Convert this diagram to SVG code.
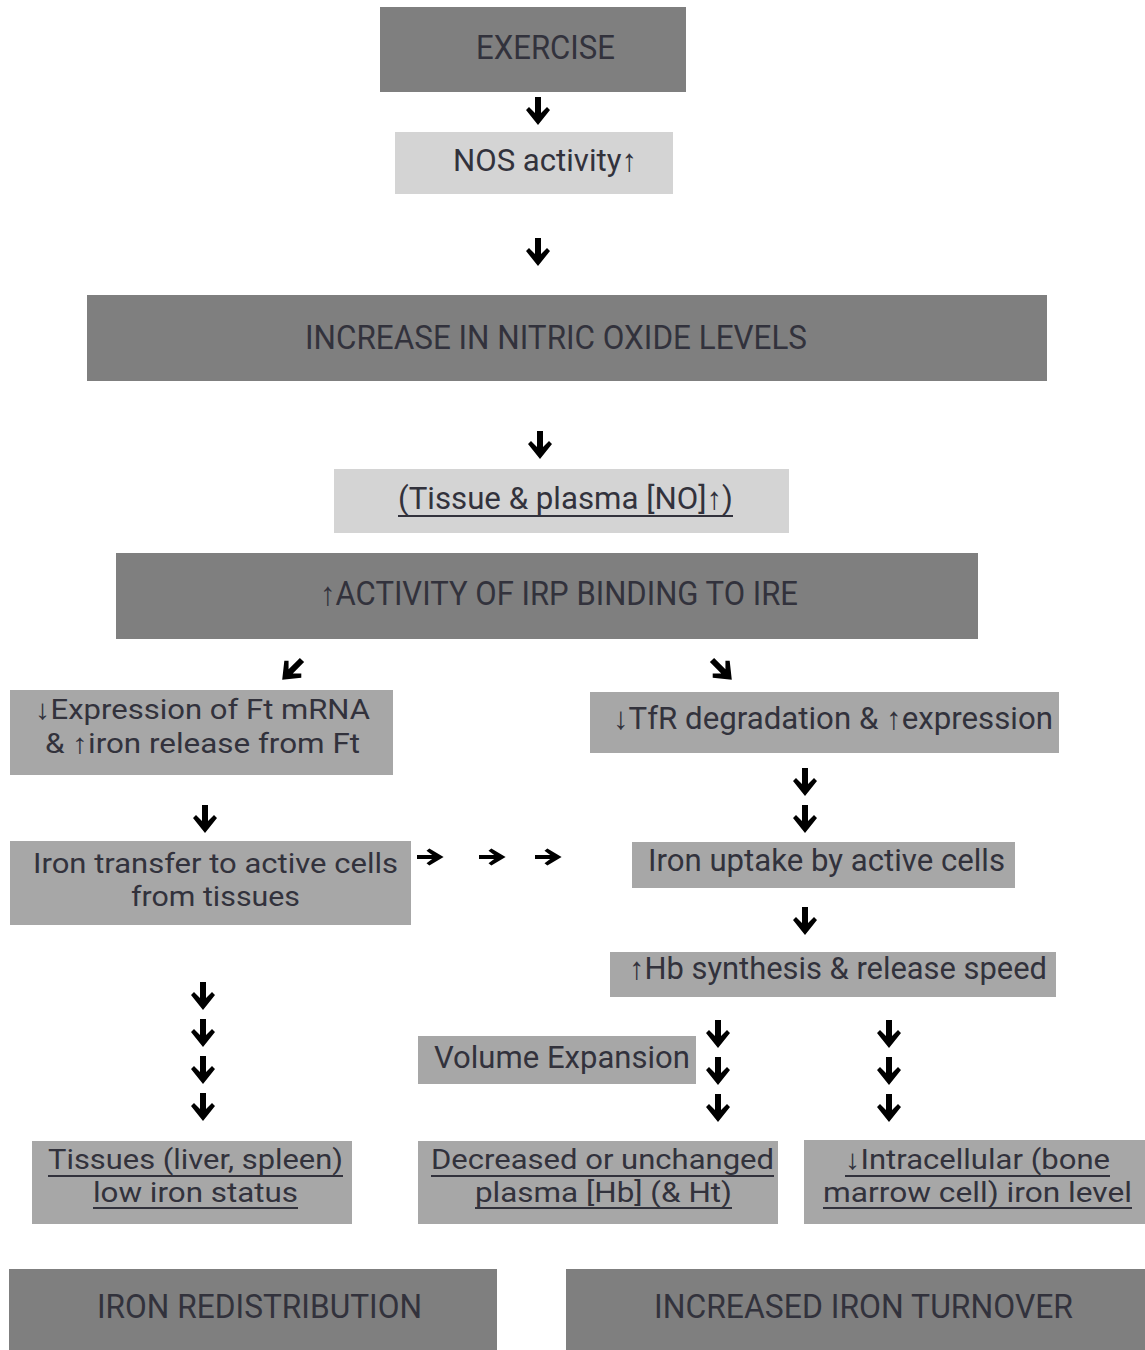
<svg xmlns="http://www.w3.org/2000/svg" xmlns:xlink="http://www.w3.org/1999/xlink" width="1145" height="1350" viewBox="0 0 1145 1350">
<style>
  .dark { fill: #7f7f7f; }
  .mid { fill: #a7a7a7; }
  .light { fill: #d4d4d4; }
  text { font-family: Roboto, "Liberation Sans", sans-serif; fill: #32323c; }
  .t { font-size: 31px; }
  .t2 { font-size: 28px; }
  .cap { font-size: 33px; }
  .ul { stroke: #32323c; stroke-width: 2; }
  .arr { fill: #000; }
</style>
<defs>
  <path id="ad" class="arr" d="M-3,0 H3 V16 L9,10 L12,13 L0,28 L-12,13 L-9,10 L-3,16 Z"/>
</defs>
<rect x="0" y="0" width="1145" height="1350" fill="#ffffff"/>

<g id="exercise"><rect class="dark" x="380" y="7" width="306" height="85"/><text class="cap" x="476" y="59" textLength="139" lengthAdjust="spacingAndGlyphs">EXERCISE</text></g>
<g id="nos"><rect class="light" x="395" y="132" width="278" height="62"/><text class="t" x="453" y="171" textLength="184" lengthAdjust="spacingAndGlyphs">NOS activity↑</text></g>
<g id="increase-no"><rect class="dark" x="87" y="295" width="960" height="86"/><text class="cap" x="305" y="349" textLength="502" lengthAdjust="spacingAndGlyphs">INCREASE IN NITRIC OXIDE LEVELS</text></g>
<g id="tissue-plasma"><rect class="light" x="334" y="469" width="455" height="64"/><text class="t" x="398" y="509" textLength="335" lengthAdjust="spacingAndGlyphs">(Tissue &amp; plasma [NO]↑)</text><line class="ul" x1="398" y1="516" x2="733" y2="516"/></g>
<g id="irp-activity"><rect class="dark" x="116" y="553" width="862" height="86"/><text class="cap" x="320" y="605" textLength="478" lengthAdjust="spacingAndGlyphs">↑ACTIVITY OF IRP BINDING TO IRE</text></g>
<g id="ft-expression"><rect class="mid" x="10" y="690" width="383" height="85"/><text class="t2" x="35" y="719" textLength="335" lengthAdjust="spacingAndGlyphs">↓Expression of Ft mRNA</text><text class="t2" x="45" y="753" textLength="315" lengthAdjust="spacingAndGlyphs">&amp; ↑iron release from Ft</text></g>
<g id="tfr"><rect class="mid" x="590" y="692" width="469" height="61"/><text class="t" x="613" y="729" textLength="440" lengthAdjust="spacingAndGlyphs">↓TfR degradation &amp; ↑expression</text></g>
<g id="iron-transfer"><rect class="mid" x="10" y="841" width="401" height="84"/><text class="t2" x="33" y="873" textLength="365" lengthAdjust="spacingAndGlyphs">Iron transfer to active cells</text><text class="t2" x="131" y="906" textLength="169" lengthAdjust="spacingAndGlyphs">from tissues</text></g>
<g id="iron-uptake"><rect class="mid" x="632" y="842" width="383" height="46"/><text class="t" x="648" y="871" textLength="357" lengthAdjust="spacingAndGlyphs">Iron uptake by active cells</text></g>
<g id="hb-synthesis"><rect class="mid" x="610" y="952" width="446" height="45"/><text class="t" x="629" y="979" textLength="418" lengthAdjust="spacingAndGlyphs">↑Hb synthesis &amp; release speed</text></g>
<g id="volume-expansion"><rect class="mid" x="418" y="1036" width="278" height="48"/><text class="t" x="434" y="1068" textLength="256" lengthAdjust="spacingAndGlyphs">Volume Expansion</text></g>
<g id="tissues-low"><rect class="mid" x="32" y="1141" width="320" height="83"/><text class="t2" x="48" y="1169" textLength="295" lengthAdjust="spacingAndGlyphs">Tissues (liver, spleen)</text><line class="ul" x1="48" y1="1176" x2="343" y2="1176"/><text class="t2" x="93" y="1202" textLength="205" lengthAdjust="spacingAndGlyphs">low iron status</text><line class="ul" x1="93" y1="1208" x2="298" y2="1208"/></g>
<g id="plasma-hb"><rect class="mid" x="418" y="1141" width="360" height="83"/><text class="t2" x="431" y="1169" textLength="343" lengthAdjust="spacingAndGlyphs">Decreased or unchanged</text><line class="ul" x1="431" y1="1176" x2="774" y2="1176"/><text class="t2" x="475" y="1202" textLength="257" lengthAdjust="spacingAndGlyphs">plasma [Hb] (&amp; Ht)</text><line class="ul" x1="475" y1="1208" x2="732" y2="1208"/></g>
<g id="intracellular"><rect class="mid" x="804" y="1140" width="341" height="84"/><text class="t2" x="845" y="1169" textLength="265" lengthAdjust="spacingAndGlyphs">↓Intracellular (bone</text><line class="ul" x1="845" y1="1176" x2="1110" y2="1176"/><text class="t2" x="823" y="1202" textLength="309" lengthAdjust="spacingAndGlyphs">marrow cell) iron level</text><line class="ul" x1="823" y1="1208" x2="1132" y2="1208"/></g>
<g id="iron-redistribution"><rect class="dark" x="9" y="1269" width="488" height="81"/><text class="cap" x="97" y="1318" textLength="325" lengthAdjust="spacingAndGlyphs">IRON REDISTRIBUTION</text></g>
<g id="iron-turnover"><rect class="dark" x="566" y="1269" width="579" height="81"/><text class="cap" x="654" y="1318" textLength="419" lengthAdjust="spacingAndGlyphs">INCREASED IRON TURNOVER</text></g>

<g id="connectors">
  <use xlink:href="#ad" transform="translate(538,97)"/>
  <use xlink:href="#ad" transform="translate(538,238)"/>
  <use xlink:href="#ad" transform="translate(540,431)"/>
  <use xlink:href="#ad" transform="translate(302,660) rotate(45)"/>
  <use xlink:href="#ad" transform="translate(712,660) rotate(-45)"/>
  <use xlink:href="#ad" transform="translate(205,805)"/>
  <use xlink:href="#ad" transform="translate(805,768)"/>
  <use xlink:href="#ad" transform="translate(805,805)"/>
  <use xlink:href="#ad" transform="translate(805,907)"/>
  <use xlink:href="#ad" transform="translate(417,857) rotate(-90) scale(0.7,0.95)"/>
  <use xlink:href="#ad" transform="translate(479,857) rotate(-90) scale(0.7,0.95)"/>
  <use xlink:href="#ad" transform="translate(535,857) rotate(-90) scale(0.7,0.95)"/>
  <use xlink:href="#ad" transform="translate(203,982)"/>
  <use xlink:href="#ad" transform="translate(203,1019)"/>
  <use xlink:href="#ad" transform="translate(203,1056)"/>
  <use xlink:href="#ad" transform="translate(203,1093)"/>
  <use xlink:href="#ad" transform="translate(718,1020)"/>
  <use xlink:href="#ad" transform="translate(718,1057)"/>
  <use xlink:href="#ad" transform="translate(718,1094)"/>
  <use xlink:href="#ad" transform="translate(889,1020)"/>
  <use xlink:href="#ad" transform="translate(889,1057)"/>
  <use xlink:href="#ad" transform="translate(889,1094)"/>
</g>
</svg>
